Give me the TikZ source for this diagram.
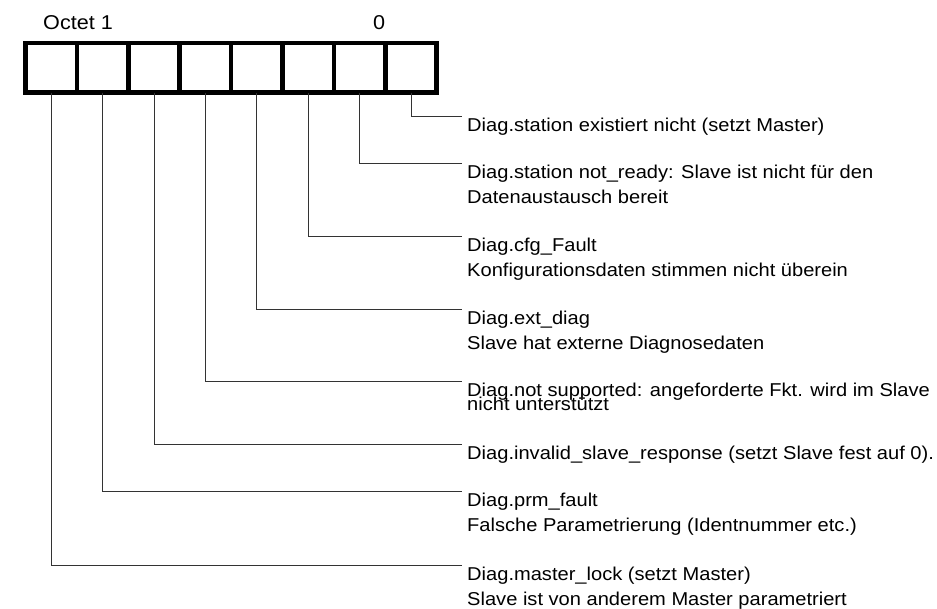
\documentclass[tikz,border=0pt]{standalone}
\usepackage{fontspec}
\setmainfont{Liberation Sans}
\newfontfamily\lbfont[FakeStretch=1.08]{Liberation Sans}
\begin{document}
\begin{tikzpicture}[x=1pt,y=-1pt,
  cell/.style={draw, line width=4.5pt, minimum width=51.4pt, minimum height=49.3pt, inner sep=0pt, outer sep=0pt},
  lbl/.style={anchor=base west, inner sep=0pt, font=\lbfont\fontsize{18.6}{25}\selectfont},
  toplbl/.style={anchor=base west, inner sep=0pt, font=\lbfont\fontsize{20}{26}\selectfont},
  conn/.style={line width=1pt, draw=black!80}]
\useasboundingbox (0,0) rectangle (937,608);
% top labels
\node[toplbl] (oct) at (43,29) {Octet 1};
\node[toplbl] (zero) at (373,29) {0};
% cells
\foreach \i in {1,...,8}
  \node[cell] (c\i) at ({25.5+51.4*(\i-0.5)}, 67.85) {};
% texts
\node[lbl] (t8a) at (467,131.5) {Diag.station existiert nicht (setzt Master)};
\node[lbl] (t7a) at (467,178.5) {Diag.station not\_ready: Slave ist nicht für den};
\node[lbl] (t7b) at (467,203.5) {Datenaustausch bereit};
\node[lbl] (t6a) at (467,251.5) {Diag.cfg\_Fault};
\node[lbl] (t6b) at (467,276.5) {Konfigurationsdaten stimmen nicht überein};
\node[lbl] (t5a) at (467,324.5) {Diag.ext\_diag};
\node[lbl] (t5b) at (467,349.5) {Slave hat externe Diagnosedaten};
\node[lbl] (t4a) at (467,396.5) {Diag.not supported: angeforderte Fkt. wird im Slave};
\node[lbl] (t4b) at (467,410.5) {nicht unterstützt};
\node[lbl] (t3a) at (467,459.5) {Diag.invalid\_slave\_response (setzt Slave fest auf 0).};
\node[lbl] (t2a) at (467,506.5) {Diag.prm\_fault};
\node[lbl] (t2b) at (467,531.5) {Falsche Parametrierung (Identnummer etc.)};
\node[lbl] (t1a) at (467,580.5) {Diag.master\_lock (setzt Master)};
\node[lbl] (t1b) at (467,605.5) {Slave ist von anderem Master parametriert};
% connector ends
\coordinate (e8) at (462,116);
\coordinate (e7) at (462,163);
\coordinate (e6) at (462,236);
\coordinate (e5) at (462,309);
\coordinate (e4) at (462,381);
\coordinate (e3) at (462,444);
\coordinate (e2) at (462,491);
\coordinate (e1) at (462,565);
\foreach \i in {1,...,8}
  \draw[conn] (c\i.south) |- (e\i);
\end{tikzpicture}
\end{document}
